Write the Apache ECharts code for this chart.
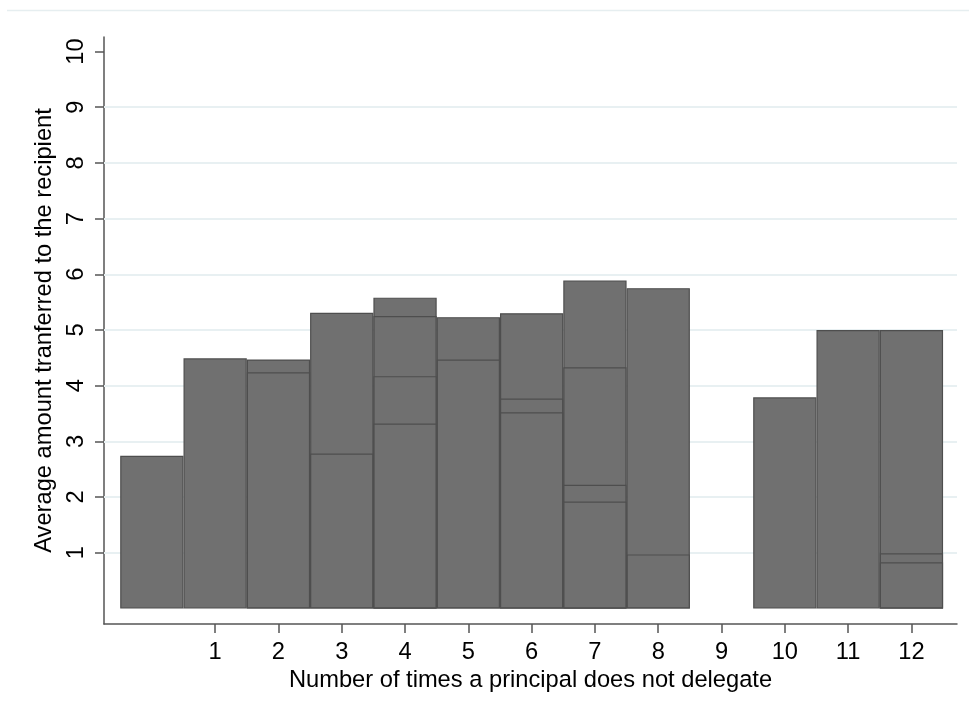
<!DOCTYPE html>
<html>
<head>
<meta charset="utf-8">
<title>Average amount transferred by number of non-delegations</title>
<script src="https://cdn.jsdelivr.net/npm/echarts@6/dist/echarts.min.js"></script>
<style>
  html, body { margin: 0; padding: 0; background: #ffffff; }
  #chart { width: 969px; height: 715px; }
</style>
</head>
<body>
<div id="chart"></div>
<script>
// Number of times a principal does not delegate (0 has no tick label)
const categories = [0, 1, 2, 3, 4, 5, 6, 7, 8, 9, 10, 11, 12];

// Overlapping bars at each count, tallest layer first so shorter ones sit on top
const layer1 = [2.74, 4.49, 4.47, 5.31, 5.58, 5.23, 5.30, 5.89, 5.75, null, 3.79, 5.00, 5.00];
const layer2 = [null, null, 4.24, 2.78, 5.25, 4.47, 3.77, 4.33, 0.97, null, null, null, 0.99];
const layer3 = [null, null, null, null, 4.17, null, 3.52, 2.22, null, null, null, null, 0.83];
const layer4 = [null, null, null, null, 3.32, null, null, 1.92, null, null, null, null, null];

const xTickLabels = [1, 2, 3, 4, 5, 6, 7, 8, 9, 10, 11, 12];
const yTickLabels = [1, 2, 3, 4, 5, 6, 7, 8, 9, 10];
const gridValues = [1, 2, 3, 4, 5, 6, 7, 8, 9];

const FONT = '"Liberation Sans", Arial, sans-serif';
const FONT_SIZE = 23.7;

function toPoints(values) {
  const pts = [];
  values.forEach((v, i) => { if (v !== null) pts.push([categories[i], v]); });
  return pts;
}

function barLayer(values, name) {
  return {
    name: name,
    type: 'bar',
    data: toPoints(values),
    barWidth: 63.3,
    barGap: '-100%',
    z: 3,
    itemStyle: { color: '#707070', borderColor: '#4e4e4e', borderWidth: 1.2 },
    emphasis: { disabled: true },
    animation: false
  };
}

const chart = echarts.init(document.getElementById('chart'), null, { renderer: 'canvas' });

chart.setOption({
  backgroundColor: '#ffffff',
  animation: false,
  grid: { left: 104, right: 12, top: 37, bottom: 91, containLabel: false },
  graphic: [{
    type: 'line',
    shape: { x1: 7, y1: 10.5, x2: 969, y2: 10.5 },
    style: { stroke: '#e6eef0', lineWidth: 1.5 },
    silent: true
  }],
  xAxis: {
    type: 'value',
    min: -0.756,
    max: 12.72,
    name: 'Number of times a principal does not delegate',
    nameLocation: 'middle',
    nameGap: 36,
    nameTextStyle: { fontFamily: FONT, fontSize: FONT_SIZE, color: '#000000' },
    axisLine: { show: true, onZero: false, lineStyle: { color: '#555555', width: 1.5 } },
    axisTick: { show: true, length: 9, customValues: xTickLabels, lineStyle: { color: '#555555', width: 1.5 } },
    axisLabel: {
      customValues: xTickLabels,
      margin: 16,
      fontFamily: FONT, fontSize: FONT_SIZE, color: '#000000'
    },
    splitLine: { show: false }
  },
  yAxis: {
    type: 'value',
    min: -0.28,
    max: 10.26,
    name: 'Average amount tranferred to the recipient',
    nameLocation: 'middle',
    nameRotate: 90,
    nameGap: 43,
    nameTextStyle: { fontFamily: FONT, fontSize: FONT_SIZE, color: '#000000' },
    axisLine: { show: true, onZero: false, lineStyle: { color: '#555555', width: 1.5 } },
    axisTick: { show: true, length: 9, customValues: yTickLabels, lineStyle: { color: '#555555', width: 1.5 } },
    axisLabel: {
      customValues: yTickLabels,
      rotate: 90,
      margin: 16,
      fontFamily: FONT, fontSize: FONT_SIZE, color: '#000000'
    },
    splitLine: { show: false }
  },
  series: [
    {
      name: 'grid',
      type: 'line',
      data: [],
      z: 1,
      silent: true,
      markLine: {
        silent: true,
        symbol: 'none',
        z: 1,
        label: { show: false },
        lineStyle: { color: '#e8f0f2', width: 2, type: 'solid' },
        emphasis: { disabled: true },
        data: gridValues.map(v => ({ yAxis: v }))
      }
    },
    barLayer(layer1, 'layer1'),
    barLayer(layer2, 'layer2'),
    barLayer(layer3, 'layer3'),
    barLayer(layer4, 'layer4')
  ]
});
</script>
</body>
</html>
